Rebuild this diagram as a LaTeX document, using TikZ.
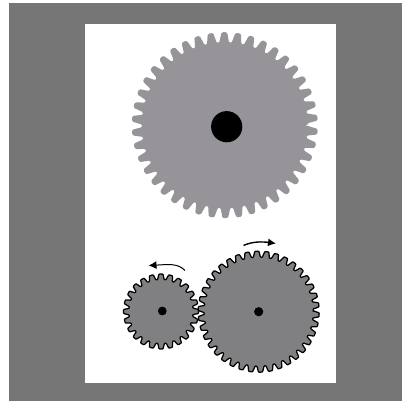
\documentclass[tikz,border=0pt]{standalone}
\usetikzlibrary{arrows.meta}
\definecolor{framegray}{RGB}{118,118,118}
\definecolor{biggear}{RGB}{150,148,153}
\definecolor{smallgear}{RGB}{128,128,130}
\tikzset{
  gearbig/.style={fill=biggear,rounded corners=1.4pt},
  gearsmall/.style={fill=smallgear,draw=black,line width=1.25pt,rounded corners=0.6pt,line join=round},
  hub/.style={fill=black},
  turn/.style={draw=black,line width=1.4pt,-{Latex[length=8pt,width=8pt]}}
}
% #1 style, #2 centre, #3 root r, #4 tip r, #5 teeth, #6 phase
\newcommand{\gearshape}[6]{%
  \begin{scope}[shift={#2}]
  \pgfmathsetmacro{\pitchang}{360/#5}%
  \pgfmathsetmacro{\startang}{#6-0.42*\pitchang}%
  \path[#1] (\startang:#3)
    \foreach \k in {1,...,#5} {
      \pgfextra{%
        \pgfmathsetmacro{\angA}{#6+(\k-1)*\pitchang-0.20*\pitchang}%
        \pgfmathsetmacro{\angB}{#6+(\k-1)*\pitchang+0.20*\pitchang}%
        \pgfmathsetmacro{\angC}{#6+(\k-1)*\pitchang+0.38*\pitchang}%
        \pgfmathsetmacro{\angD}{#6+(\k-1)*\pitchang+0.58*\pitchang}%
      }
      -- (\angA:#4) -- (\angB:#4) -- (\angC:#3) -- (\angD:#3)
    } -- cycle;%
  \end{scope}%
}
\begin{document}
\begin{tikzpicture}[x=1pt,y=-1pt]
\useasboundingbox (0,0) rectangle (402,401);
\fill[white] (0,0) rectangle (402,401);
\fill[framegray] (9,3) rectangle (402,401);
\fill[white] (85,24) rectangle (336,383);
\gearshape{gearbig}{(224.8,125.2)}{82.5}{93}{42}{4}
\fill[hub] (226.7,126.7) circle (15.6);
\gearshape{gearsmall}{(161,311.5)}{32}{37.5}{24}{0}
\fill[hub] (162.3,311) circle (4.4);
\gearshape{gearsmall}{(258.7,311.7)}{54.5}{60.5}{38}{3}
\fill[hub] (258.7,311.7) circle (4.6);
\coordinate (ra) at (243.5,245.5);
\coordinate (rb) at (276,243.5);
\coordinate (la) at (185,270.5);
\coordinate (lb) at (148.5,265.5);
\draw[turn] (ra) .. controls (252,241.5) and (262,241.5) .. (rb);
\draw[turn,line width=1pt] (la) .. controls (178,263) and (168,264.5) .. (lb);
\end{tikzpicture}
\end{document}
